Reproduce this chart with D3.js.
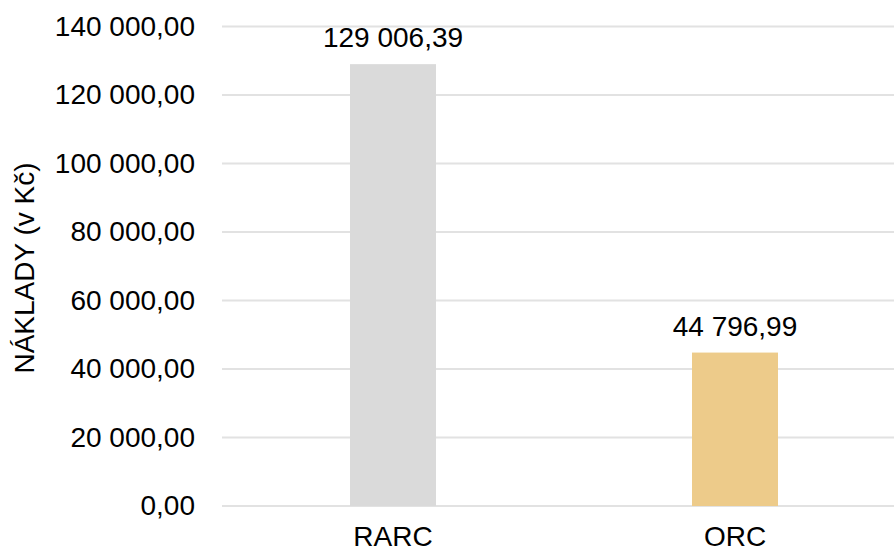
<!DOCTYPE html>
<html>
<head>
<meta charset="utf-8">
<script src="https://cdn.jsdelivr.net/npm/d3@7"></script>
<style>
  html, body { margin: 0; padding: 0; background: #fff; }
  svg { display: block; font-family: "Liberation Sans", Arial, sans-serif; }
</style>
</head>
<body>
<svg id="chart" width="894" height="550"></svg>
<script>
// Costs per method (CZK)
const categories = ["RARC", "ORC"];
const costs = [129006.39, 44796.99];
const barColors = ["#dadada", "#edcb8a"];
const yTicks = [0, 20000, 40000, 60000, 80000, 100000, 120000, 140000];
const yTitle = "NÁKLADY (v Kč)";

const cz = d3.formatLocale({ decimal: ",", thousands: "\u00a0", grouping: [3], currency: ["", " Kč"] });
const fmt = cz.format(",.2f");

const svg = d3.select("#chart");
const plot = { left: 222, right: 906, top: 26.5, bottom: 506 };

const x = d3.scaleBand().domain(categories).range([plot.left, plot.right]).paddingInner(0).paddingOuter(0);
const y = d3.scaleLinear().domain([0, 140000]).range([plot.bottom, plot.top]);
const barW = 86;

// Horizontal gridlines
svg.append("g")
  .selectAll("line")
  .data(yTicks)
  .join("line")
  .attr("x1", plot.left).attr("x2", plot.right)
  .attr("y1", d => y(d)).attr("y2", d => y(d))
  .attr("stroke", "#e2e2e2").attr("stroke-width", 2);

// Y axis labels
const yAxis = d3.axisLeft(y).tickValues(yTicks).tickFormat(fmt).tickSize(0).tickPadding(27);
const gy = svg.append("g").attr("transform", `translate(${plot.left},0)`).call(yAxis);
gy.select(".domain").remove();
gy.selectAll("text").attr("font-size", 28).attr("fill", "#000").attr("font-family", "Liberation Sans, Arial, sans-serif");

// Bars
svg.append("g")
  .selectAll("rect")
  .data(categories)
  .join("rect")
  .attr("x", d => x(d) + x.bandwidth() / 2 - barW / 2)
  .attr("width", barW)
  .attr("y", (d, i) => y(costs[i]))
  .attr("height", (d, i) => y(0) - y(costs[i]))
  .attr("fill", (d, i) => barColors[i]);

// Value labels
svg.append("g")
  .selectAll("text")
  .data(categories)
  .join("text")
  .attr("x", d => x(d) + x.bandwidth() / 2)
  .attr("y", (d, i) => y(costs[i]) - 17)
  .attr("text-anchor", "middle")
  .attr("font-size", 28)
  .attr("fill", "#000")
  .text((d, i) => fmt(costs[i]));

// X axis category labels
const xAxis = d3.axisBottom(x).tickSize(0).tickPadding(20);
const gx = svg.append("g").attr("transform", `translate(0,${plot.bottom})`).call(xAxis);
gx.select(".domain").remove();
gx.selectAll("text").attr("font-size", 28).attr("fill", "#000").attr("font-family", "Liberation Sans, Arial, sans-serif");

// Y axis title
svg.append("text")
  .attr("transform", "translate(34,268) rotate(-90)")
  .attr("text-anchor", "middle")
  .attr("font-size", 28)
  .attr("fill", "#000")
  .text(yTitle);
</script>
</body>
</html>
